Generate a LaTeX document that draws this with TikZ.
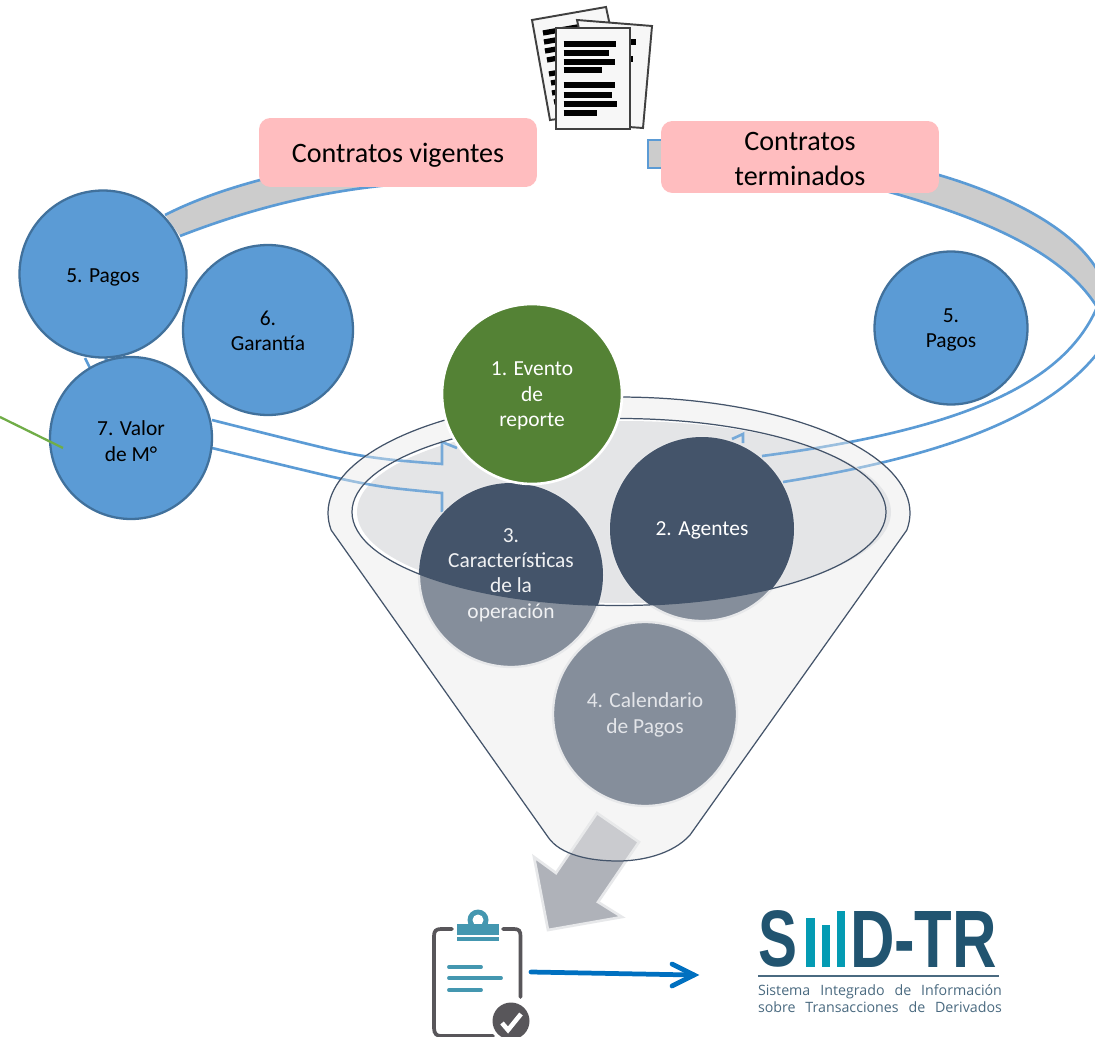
\documentclass[tikz,border=0pt]{standalone}
\usepackage{fontspec}
\usepackage{graphicx}
\setmainfont{Carlito}
\newfontfamily\logofont{Liberation Sans}
\newfontfamily\logosmall{Open Sans}
\definecolor{ringblue}{HTML}{5B9BD5}
\definecolor{ringedge}{HTML}{41719C}
\definecolor{navy}{HTML}{44546A}
\definecolor{navylite}{HTML}{858E9B}
\definecolor{softedge}{HTML}{E7E8EA}
\definecolor{mouthgrey}{HTML}{E4E5E7}
\definecolor{arrowgrey}{HTML}{AFB2B9}
\definecolor{pink}{HTML}{FFBDBF}
\definecolor{leaf}{HTML}{548235}
\definecolor{sprout}{HTML}{70AD47}
\definecolor{teal}{HTML}{4497B0}
\definecolor{icongray}{HTML}{58565A}
\definecolor{logodark}{HTML}{215470}
\definecolor{logobar}{HTML}{049BB3}
\definecolor{logotext}{HTML}{4A6A80}
\definecolor{linkblue}{HTML}{0070C0}
\newcommand{\smalltext}{\fontsize{12.2pt}{14.5pt}\selectfont}
\newcommand{\bigtext}{\fontsize{16pt}{19.4pt}\selectfont}
\newcommand{\ringlines}{%
  \draw[ringline] plot[smooth] coordinates {(212,420) (333,450) (385,459) (442,464)} -- (442,442) -- (457,448);
  \draw[ringline] plot[smooth] coordinates {(212,448) (333,477) (385,487) (442,493)} -- (442,512);
  \draw[ringline] (732,439) -- (743,434) -- (743,443);
  \draw[ringline] (1098,305) .. controls (1065,385) and (960,430) .. (762,456);
  \draw[ringline] (1100,350) .. controls (1050,415) and (950,455) .. (783,482);
}
\tikzset{
  ringline/.style={draw=ringblue,line width=1.5pt},
  bandfill/.style={fill=black!20},
  bluecircle/.style={circle,draw=ringedge,line width=1.3pt,fill=ringblue,inner sep=0pt},
  bluelabel/.style={text=black,align=center,font=\smalltext,inner sep=0pt},
  funnelcircle/.style={circle,draw=softedge,line width=1.3pt,fill=navylite,inner sep=0pt,minimum size=3.68cm},
  whitelabel/.style={text=white,align=center,font=\smalltext,inner sep=0pt},
  pinkbox/.style={draw=none,fill=pink,rounded corners=6.5pt,inner sep=0pt,minimum width=5.56cm},
  pinklabel/.style={align=center,font=\bigtext,text=black,inner sep=0pt},
  funneledge/.style={draw=navy,line width=.7pt},
  page/.style={draw=black!75,line width=1.1pt,fill=black!3},
  txtbar/.style={line width=3pt,black},
  clipstroke/.style={draw=icongray,line width=2.1pt,line cap=round},
  tealbar/.style={draw=teal,line width=2.2pt,line cap=round},
}
\begin{document}
\begin{tikzpicture}[x=0.02cm,y=-0.02cm]
\useasboundingbox (0,0) rectangle (1095,1037);
\fill[white] (0,0) rectangle (1095,1037);

% ring: grey bands and small tail piece
\filldraw[draw=ringblue,line width=1.5pt,bandfill] (648,140) rectangle (668,168);
\fill[bandfill] (165,215) .. controls (210,192) and (270,175) .. (330,165) -- (400,184) .. controls (330,190) and (260,205) .. (180,236) -- cycle;
\draw[ringline] (165,215) .. controls (210,192) and (270,175) .. (330,165);
\draw[ringline] (180,236) .. controls (260,205) and (330,190) .. (400,184);
\fill[bandfill] (900,165) .. controls (990,185) and (1075,225) .. (1100,275) -- (1100,312) .. controls (1065,250) and (975,214) .. (860,184) -- cycle;
\draw[ringline] (900,165) .. controls (990,185) and (1075,225) .. (1100,275);
\draw[ringline] (1100,312) .. controls (1065,250) and (975,214) .. (860,184);
\draw[ringline] (85,358) -- (92,372);
\draw[ringline] (105,358) -- (111,364);

% grey arrow out of the funnel (under the translucent funnel)
\filldraw[draw=softedge,line width=1.5pt,fill=arrowgrey] (597,813) -- (639,842) -- (598,902) -- (622,917) -- (548,930) -- (534,857) -- (556,873) -- cycle;

% ring lines under the funnel
\ringlines

% funnel
\path[fill=black!8,fill opacity=.45] plot[domain=171.5:368.5,samples=90] ({619+291*cos(\x)},{513+116*sin(\x)}) -- (690,835) .. controls (672,855) and (640,861) .. (618,861) .. controls (590,861) and (560,855) .. (548,837) -- cycle;
\draw[funneledge] plot[domain=171.5:368.5,samples=90] ({619+291*cos(\x)},{513+116*sin(\x)}) -- (690,835) .. controls (672,855) and (640,861) .. (618,861) .. controls (590,861) and (560,855) .. (548,837) -- cycle;
\fill[white] (619,512) ellipse [x radius=267,y radius=93.5];
\fill[mouthgrey] (624,512) ellipse [x radius=267,y radius=91];
\begin{scope}
  \clip (619,512) ellipse [x radius=267,y radius=93.5];
  \begin{scope}[opacity=.8]\ringlines\end{scope}
\end{scope}

% funnel circles: light everywhere, dark inside the funnel mouth
\node[funnelcircle] (agents) at (702,529) {};
\node[funnelcircle] (features) at (511,575) {};
\node[funnelcircle] (calendar) at (645,714) {};
\begin{scope}
  \clip (619,512) ellipse [x radius=267,y radius=93.5];
  \fill[navy] (agents) circle [radius=92];
  \fill[navy] (features) circle [radius=92];
\end{scope}
\draw[funneledge] (619,512) ellipse [x radius=267,y radius=93.5];
\node[circle,draw=white,line width=1.5pt,fill=leaf,minimum size=3.6cm,inner sep=0pt] (event) at (532,394) {};
\node[whitelabel] (eventtext) at (532,396) {1. Evento\\de\\reporte};
\node[whitelabel] (agentstext) at (702,530) {2. Agentes};
\node[whitelabel,text=white!92!navy] (featurestext) at (511,575) {3.\\Características\\de la\\operación};
\node[whitelabel,text=white!85!navy] (calendartext) at (645,715) {4. Calendario\\de Pagos};

% blue circles
\node[bluecircle,minimum size=3.34cm] (pay) at (103,274) {};
\node[bluelabel] (paytext) at (103,277) {5. Pagos};
\node[bluecircle,minimum size=3.4cm] (guarantee) at (268,330) {};
\node[bluelabel] (guaranteetext) at (268,331) {6.\\Garantía};
\node[bluecircle,minimum size=3.24cm] (value) at (131,438) {};
\node[bluelabel] (valuetext) at (131,441) {7. Valor\\de M°};
\node[bluecircle,minimum size=3.06cm] (payend) at (951,328) {};
\node[bluelabel] (payendtext) at (951,330) {5.\\Pagos};
\coordinate (greenstart) at (0,417);
\coordinate (greenend) at (63,448);
\draw[draw=sprout,line width=1.3pt] (greenstart) -- (greenend);

% pink boxes
\node[pinkbox,minimum height=1.38cm] (active) at (398,152.5) {};
\node[pinklabel] (activetext) at (398,155) {Contratos vigentes};
\node[pinkbox,minimum height=1.44cm] (ended) at (800,157) {};
\node[pinklabel] (endedtext) at (800,159) {Contratos\\terminados};

% documents icon
\filldraw[page] (532,20) -- (606,7) -- (628,110) -- (550,120) -- cycle;
\begin{scope}
  \clip (532,20) -- (606,7) -- (628,110) -- (550,120) -- cycle;
  \foreach \a/\b in {543/33,544/42,545/51,547/60,549/74,551/83,552/93,554/102}
    \draw[txtbar] (\a,\b) -- ++(40,-7);
\end{scope}
\filldraw[page] (577,20) -- (652,26) -- (643,128) -- (600,125) -- cycle;
\draw[txtbar] (620,42) -- (636,42);
\draw[txtbar] (620,59) -- (633,59);
\filldraw[page] (556,28) rectangle (630,129);
\foreach \y/\e in {44/616,53/609,62/615,70/602,85/615,95/612,104/617,113/597}
  \draw[txtbar] (563.5,\y) -- (\e,\y);

% clipboard icon
\draw[clipstroke] (452,929) -- (441,929) .. controls (436,929) and (434,931) .. (434,936) -- (434,1028) .. controls (434,1034) and (437,1036) .. (441,1036) -- (493,1036);
\draw[clipstroke] (503,929) -- (514,929) .. controls (519,929) and (520.5,931) .. (520.5,936) -- (520.5,997);
\fill[teal] (478,920) circle [radius=10.5];
\fill[white] (478,920) circle [radius=5.5];
\fill[teal] (457,924) rectangle (499,935);
\fill[teal] (457,937) rectangle (499,941);
\draw[tealbar] (449,967) -- (481,967);
\draw[tealbar] (449,978) -- (501,978);
\draw[tealbar] (449,990) -- (481,990);
\fill[icongray] (511,1021) circle [radius=18.5];
\draw[white,line width=2.6pt] (502,1023) -- (508,1030) -- (521,1014);
\coordinate (clipboard) at (531,972);

% blue connector
\coordinate (logoentry) at (694,975);
\draw[draw=linkblue,line width=2.7pt,line cap=round] (clipboard) -- (logoentry);
\draw[draw=linkblue,line width=2.7pt,line cap=round,line join=miter] (672,964) -- (logoentry) -- (672,986);

% SIID-TR logo
\node[inner sep=0pt,text=logodark] (logoS) at (777.5,939) {\resizebox{0.78cm}{1.12cm}{\logofont\bfseries S}};
\fill[logobar] (806,918) rectangle (815,967);
\fill[logobar] (822,925) rectangle (830,967);
\fill[logobar] (837,911) rectangle (845,967);
\node[inner sep=0pt,text=logodark] (logoD) at (923.5,939) {\resizebox{2.94cm}{1.12cm}{\logofont\bfseries D-TR}};
\draw[logotext,line width=.7pt] (758,976) -- (999,976);
\node[inner sep=0pt,text=logotext] (logoa) at (880,992) {\makebox[4.88cm][s]{\logosmall\fontsize{8.1pt}{9pt}\selectfont Sistema Integrado de Información}};
\node[inner sep=0pt,text=logotext] (logob) at (880,1007) {\makebox[4.88cm][s]{\logosmall\fontsize{8.1pt}{9pt}\selectfont sobre Transacciones de Derivados}};
\end{tikzpicture}
\end{document}
